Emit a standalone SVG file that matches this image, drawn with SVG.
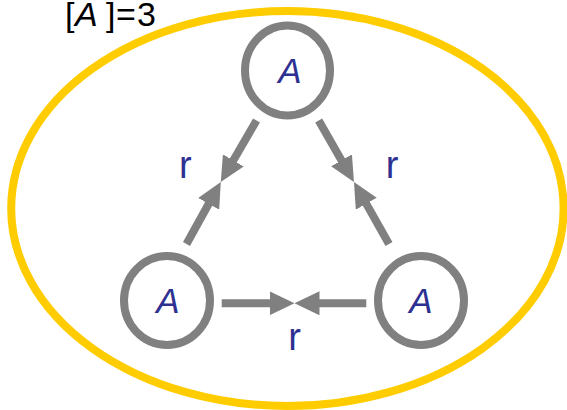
<svg xmlns="http://www.w3.org/2000/svg" width="567" height="410" viewBox="0 0 567 410">
  <style>
    .boundary { fill: none; stroke: #ffcc00; stroke-width: 8; }
    .node { fill: #ffffff; stroke: #808080; stroke-width: 8; }
    .edge { fill: none; stroke: #808080; stroke-width: 8; marker-end: url(#head); }
    .label { font-family: "Liberation Sans", Arial, sans-serif; font-size: 35px; fill: #2e3192; text-anchor: middle; }
    .rate { font-size: 38px; }
    .species { font-style: italic; }
    .count { font-family: "Liberation Sans", Arial, sans-serif; font-size: 34px; fill: #000000; }
  </style>
  <defs>
    <marker id="head" markerUnits="userSpaceOnUse" viewBox="0 0 25 24" markerWidth="25" markerHeight="24" refX="5" refY="12" orient="auto">
      <path d="M0,0 L25,12 L0,24 Z" fill="#808080"/>
    </marker>
  </defs>

  <rect width="567" height="410" fill="#ffffff"/>

  <!-- compartment boundary and its count -->
  <ellipse class="boundary" cx="287.4" cy="208.5" rx="276.2" ry="197.5"/>
  <text class="count" y="25.5"><tspan x="65">[</tspan><tspan x="75" font-style="italic">A</tspan><tspan x="106">]</tspan><tspan x="116">=</tspan><tspan x="137">3</tspan></text>

  <!-- reaction connectors -->
  <g id="connectors">
    <path class="edge" d="M256.5,120.5 L230.8,164.7"/>
    <path class="edge" d="M186.5,244 L211.1,199.5"/>
    <path class="edge" d="M318.7,120.5 L344,164.65"/>
    <path class="edge" d="M389,244 L363.8,199.4"/>
    <path class="edge" d="M221.7,303.3 L274.5,303.3"/>
    <path class="edge" d="M366.3,303.3 L314.5,303.3"/>
    <text class="label rate" x="185.3" y="178">r</text>
    <text class="label rate" x="392.2" y="178">r</text>
    <text class="label rate" x="294.5" y="350">r</text>
  </g>

  <!-- molecules -->
  <g id="node-top">
    <ellipse class="node" cx="287.5" cy="70.5" rx="42.5" ry="45"/>
    <text class="label species" x="290" y="83">A</text>
  </g>
  <g id="node-left">
    <ellipse class="node" cx="167" cy="300.5" rx="43" ry="44.5"/>
    <text class="label species" x="168" y="313">A</text>
  </g>
  <g id="node-right">
    <ellipse class="node" cx="421" cy="300.5" rx="43" ry="44.5"/>
    <text class="label species" x="421" y="313">A</text>
  </g>
</svg>
